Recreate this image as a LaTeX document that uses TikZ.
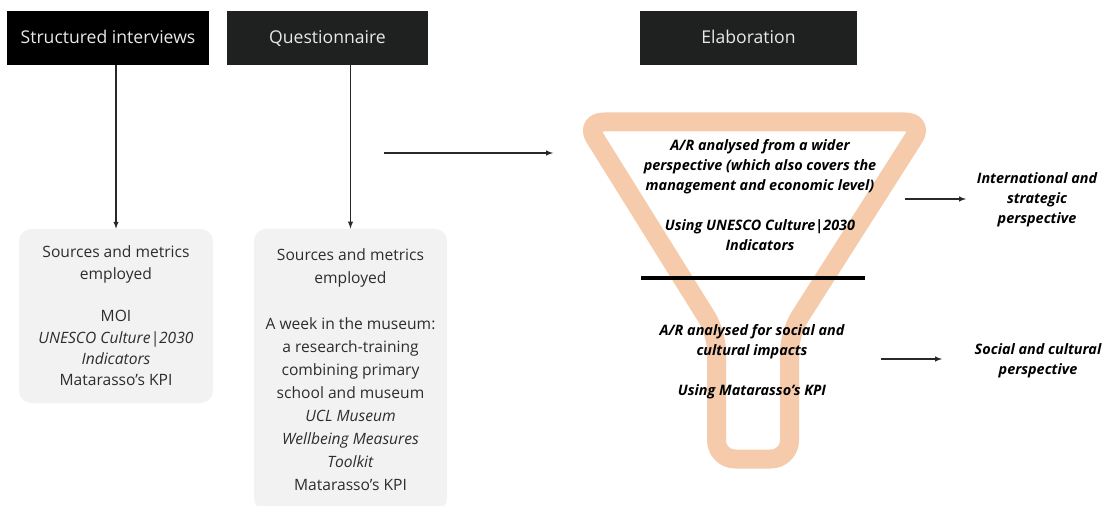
\documentclass[tikz,border=0pt]{standalone}
\usepackage{fontspec}
\setmainfont{Open Sans}
\usepackage{tikz}
\definecolor{funnelpeach}{RGB}{245,203,171}
\definecolor{headerdark}{RGB}{31,33,32}
\definecolor{headertext}{RGB}{232,232,232}
\definecolor{boxgray}{RGB}{242,242,242}
\definecolor{boxtext}{RGB}{45,45,45}
\definecolor{arrowgray}{RGB}{40,40,40}
\tikzset{
  header/.style={
    fill=black,
    text=headertext,
    minimum height=40.5pt,
    inner sep=0pt,
    text height=10.5pt,
    text depth=2.5pt,
    font=\fontsize{13.2}{15}\selectfont,
  },
  sourcebox/.style={
    fill=boxgray,
    text=boxtext,
    rounded corners=9pt,
    align=center,
    inner sep=0pt,
  },
  finding/.style={
    align=center,
    inner sep=0pt,
    font=\fontsize{10.8}{15}\selectfont\bfseries\itshape,
  }
}

\begin{document}
\begin{tikzpicture}[x=0.75pt, y=-0.75pt]
    \useasboundingbox (0, 0) rectangle (1106, 506);

    % Headers
    \node[header, minimum width=151.5pt] (interviews) at (108, 38) {Structured interviews};
    \node[header, fill=headerdark, minimum width=150.75pt] (questionnaire) at (327.5, 38) {Questionnaire};
    \node[header, fill=headerdark, minimum width=162.75pt] (elaboration) at (748.5, 38) {Elaboration};

    % Sources and metrics
    \node[sourcebox, minimum width=145.5pt, minimum height=130.5pt, font=\fontsize{11.7}{16}\selectfont] (interviewsrc) at (116, 316)
        {Sources and metrics\\employed\\[16pt]MOI\\\textit{UNESCO Culture|2030}\\\textit{Indicators}\\Matarasso's KPI};
    \node[sourcebox, minimum width=144.75pt, minimum height=211pt, font=\fontsize{11.7}{17.3}\selectfont] (questionnairesrc) at (350.5, 369.5)
        {Sources and metrics\\employed\\[17.3pt]A week in the museum:\\a research-training\\combining primary\\school and museum\\\textit{UCL Museum}\\\textit{Wellbeing Measures}\\\textit{Toolkit}\\Matarasso's KPI};

    \draw[arrows={-latex}, thick, arrowgray] (interviews.south -| interviewsrc.north) -- (interviewsrc.north);
    \draw[arrows={-latex}, thick, arrowgray] (questionnaire.south -| questionnairesrc.north) -- (questionnairesrc.north);

    % Funnel
    \draw[funnelpeach, line width=14.25pt, rounded corners=14pt, line join=round]
        (585, 122) -- (924, 122) -- (789.5, 333) -- (789.5, 459) -- (716.5, 459) -- (716.5, 333) -- cycle;
    \draw[line width=3.5pt] (641, 278) -- (865, 278);

    \node[finding] (wider) at (760, 195)
        {A/R analysed from a wider\\perspective (which also covers the\\management and economic level)\\[15pt]Using UNESCO Culture|2030\\Indicators};
    \node[finding] (impacts) at (752, 362)
        {A/R analysed for social and\\cultural impacts\\[15pt]Using Matarasso's KPI};

    \node[finding] (strategic) at (1037, 200) {International and\\strategic\\perspective};
    \node[finding] (cultural) at (1038, 361) {Social and cultural\\perspective};

    \coordinate (toelab) at (384, 153);
    \coordinate (elabin) at (553, 153);
    \coordinate (widerout) at (905, 199);
    \coordinate (strategicin) at (966, 199);
    \coordinate (impactsout) at (881, 359);
    \coordinate (culturalin) at (942, 359);

    \draw[arrows={-latex}, thick, arrowgray] (toelab) -- (elabin);
    \draw[arrows={-latex}, thick, arrowgray] (widerout) -- (strategicin);
    \draw[arrows={-latex}, thick, arrowgray] (impactsout) -- (culturalin);

\end{tikzpicture}
\end{document}
